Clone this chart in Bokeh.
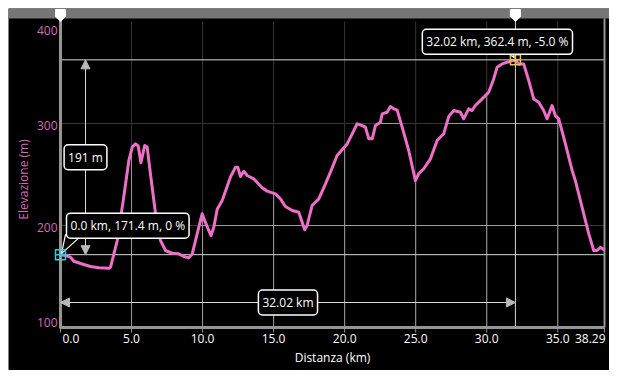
import numpy as np
from bokeh.plotting import figure
from bokeh.models import Range1d, Label, Arrow, NormalHead
from bokeh.core.properties import value
from bokeh.embed import file_html
from bokeh.resources import INLINE

# ---------------- data ----------------
distance_km = [0.00, 0.35, 0.70, 0.94, 1.64, 2.11, 2.70, 3.40, 3.52, 3.99, 4.45, 4.81,
               5.05, 5.28, 5.47, 5.66, 5.93, 6.10, 6.33, 6.69, 7.04, 7.39, 7.86, 8.32,
               8.68, 9.03, 9.27, 9.62, 9.97, 10.20, 10.59, 10.79, 11.03, 11.38, 11.96,
               12.32, 12.48, 12.67, 12.90, 13.14, 13.60, 14.19, 14.55, 15.13, 15.48,
               15.83, 16.31, 16.77, 17.01, 17.19, 17.36, 17.71, 18.18, 18.65, 19.00,
               19.47, 19.82, 20.18, 20.53, 20.88, 21.23, 21.46, 21.70, 21.94, 22.17,
               22.52, 22.64, 22.99, 23.22, 23.46, 23.69, 24.05, 24.51, 24.98, 25.21,
               25.57, 26.04, 26.51, 26.97, 27.33, 27.68, 28.15, 28.38, 28.73, 28.97,
               29.20, 29.68, 30.14, 30.49, 30.73, 31.08, 31.43, 32.02, 32.25, 32.60,
               32.96, 33.31, 33.66, 34.01, 34.25, 34.60, 34.83, 35.07, 35.54, 36.01,
               36.24, 36.71, 37.18, 37.53, 37.77, 38.00, 38.29]
elevation_m = [171.4, 170.6, 169.0, 165.0, 161.8, 159.8, 158.5, 158.0, 159.0, 185.0,
               227.7, 263.7, 276.8, 280.0, 278.0, 261.5, 278.4, 276.8, 250.7, 211.5,
               185.3, 175.5, 172.8, 172.2, 169.6, 168.3, 172.0, 191.9, 211.5, 203.0,
               190.0, 198.3, 216.0, 224.5, 247.4, 257.2, 257.0, 248.0, 253.2, 249.0,
               245.8, 237.0, 233.7, 231.0, 226.1, 218.6, 214.7, 213.0, 203.2, 195.8,
               200.0, 219.6, 226.1, 240.9, 252.3, 268.6, 274.2, 280.0, 289.9, 299.7,
               298.0, 296.4, 285.0, 285.0, 298.0, 301.3, 309.5, 311.0, 316.7, 314.4,
               313.3, 296.4, 273.5, 244.0, 250.7, 255.6, 265.4, 283.3, 289.9, 307.0,
               312.7, 311.0, 304.6, 314.4, 312.7, 317.6, 324.1, 330.6, 343.7, 355.1,
               358.4, 360.0, 362.4, 358.4, 358.4, 342.0, 324.0, 320.9, 312.7, 304.6,
               317.6, 307.8, 304.6, 280.0, 254.0, 244.0, 218.0, 192.0, 175.5, 175.5,
               178.7, 176.0]

x_ticks = [0, 5, 10, 15, 20, 25, 30, 35, 38.29]
x_tick_labels = ["0.0", "5.0", "10.0", "15.0", "20.0", "25.0", "30.0", "35.0", "38.29"]
y_ticks = [100, 200, 300, 400]
y_tick_labels = ["100", "200", "300", "400"]

start_km, start_elev = 0.0, 171.4
peak_km, peak_elev = 32.02, 362.4
start_info = "0.0 km, 171.4 m, 0 %"
peak_info = "32.02 km, 362.4 m, -5.0 %"
climb_text = "191 m"
dist_text = "32.02 km"
x_title = "Distanza (km)"
y_title = "Elevazione (m)"

# ---------------- style / geometry ----------------
FONT = "Open Sans"
PINK = "#ee6fc8"
PINK_TXT = "#d46cb4"
DIM = "#363636"
BRIGHT = "#9c9c9c"
WHITE_LINE = "#d8d8d8"
AXIS = "#959595"

W, H = 609, 370              # includes an 8px white strip left/top
PAD_L, PAD_R, PAD_T, PAD_B = 52, 5, 13, 43   # plot box inside the black frame
FW, FH = W - 8, H - 8
x0, x1 = x_ticks[0], x_ticks[-1]
y0, y1 = y_ticks[0], y_ticks[-1]
kx = (x1 - x0) / (FW - PAD_L - PAD_R)
ky = (y1 - y0) / (FH - PAD_T - PAD_B)
xr = Range1d(x0 - PAD_L * kx, x1 + PAD_R * kx)
yr = Range1d(y0 - PAD_B * ky, y1 + PAD_T * ky)

p = figure(width=W, height=H, output_backend="svg", toolbar_location=None,
           x_range=xr, y_range=yr, x_axis_location=None, y_axis_location=None,
           min_border_left=8, min_border_top=8, min_border_right=0, min_border_bottom=0,
           background_fill_color="black", border_fill_color="white",
           outline_line_color=None)
p.xgrid.visible = False
p.ygrid.visible = False

xs = np.array(distance_km, dtype=float)
ys = np.array(elevation_m, dtype=float)

# top slider bar
bar_bottom = yr.end - 10 * ky
p.quad(left=[xr.start], right=[xr.end], top=[yr.end], bottom=[bar_bottom],
       fill_color="#767676", line_color=None)

# grid, dim everywhere
gx = np.array(x_ticks[1:-1], dtype=float)
p.segment(x0=gx, y0=[y0] * len(gx), x1=gx, y1=[y1] * len(gx), line_color=DIM, line_width=1)
gy = np.array(y_ticks[1:-1], dtype=float)
p.segment(x0=[x0] * len(gy), y0=gy, x1=[x1] * len(gy), y1=gy, line_color=DIM, line_width=1)

# bright grid below the profile
p.segment(x0=gx, y0=[y0] * len(gx), x1=gx, y1=np.interp(gx, xs, ys),
          line_color=BRIGHT, line_width=1)

def above(level):
    segs, start = [], (xs[0] if ys[0] > level else None)
    for i in range(1, len(xs)):
        a, b = ys[i - 1], ys[i]
        if (a > level) != (b > level):
            xc = xs[i - 1] + (level - a) * (xs[i] - xs[i - 1]) / (b - a)
            if b > level:
                start = xc
            else:
                segs.append((start, xc))
    if ys[-1] > level:
        segs.append((start, xs[-1]))
    return segs

hx0, hx1, hy = [], [], []
for lv in gy:
    for a, b in above(lv):
        hx0.append(a); hx1.append(b); hy.append(lv)
p.segment(x0=hx0, y0=hy, x1=hx1, y1=hy, line_color=BRIGHT, line_width=1)

# reference lines
p.segment(x0=[x0, x0], y0=[start_elev, peak_elev], x1=[x1, x1], y1=[start_elev, peak_elev],
          line_color=WHITE_LINE, line_width=1)
p.segment(x0=[peak_km], y0=[y0], x1=[peak_km], y1=[bar_bottom],
          line_color=WHITE_LINE, line_width=1)

# axes lines & ticks
p.segment(x0=[x0], y0=[y0 - 1 * ky], x1=[x0], y1=[bar_bottom], line_color=AXIS, line_width=3)
p.segment(x0=[x0], y0=[y0], x1=[x1], y1=[y0], line_color=AXIS, line_width=3)
p.segment(x0=[x1], y0=[y0], x1=[x1], y1=[bar_bottom], line_color=AXIS, line_width=2)
tx = np.array(x_ticks, dtype=float)
p.segment(x0=tx, y0=[y0] * len(tx), x1=tx, y1=[y0 - 5 * ky] * len(tx),
          line_color=AXIS, line_width=1)

# profile
p.line(distance_km, elevation_m, line_color=PINK, line_width=3, line_join="round")

# arrows
arrow_x = x0 + 25 * kx
arrow_y = y0 + 25 * ky
head = dict(size=9, fill_color="#b8b8b8", line_color="#b8b8b8")
p.add_layout(Arrow(start=NormalHead(**head), end=NormalHead(**head),
                   x_start=arrow_x, y_start=start_elev, x_end=arrow_x, y_end=peak_elev,
                   line_color=WHITE_LINE, line_width=1))
p.add_layout(Arrow(start=NormalHead(**head), end=NormalHead(**head),
                   x_start=start_km, y_start=arrow_y, x_end=peak_km, y_end=arrow_y,
                   line_color=WHITE_LINE, line_width=1))

# callout tails
p.patch([start_km + 5 * kx, start_km + 22 * kx, start_km + 1 * kx],
        [start_elev + 20 * ky, start_elev + 20 * ky, start_elev + 1 * ky],
        fill_color="black", line_color="white", line_width=1.2)
p.patch([peak_km - 11 * kx, peak_km - 3 * kx, peak_km - 1 * kx],
        [peak_elev + 9 * ky, peak_elev + 9 * ky, peak_elev + 2 * ky],
        fill_color="black", line_color="white", line_width=1.2)

# markers
p.scatter([start_km], [start_elev], marker="square_cross", size=10, fill_color=None,
          line_color="#3ccad8", line_width=1.5)
p.scatter([peak_km], [peak_elev], marker="square_cross", size=10, fill_color=None,
          line_color="#e6c84a", line_width=1.5)

# slider pins
pin_px = [(-5, 0), (5, 0), (5, 7), (0, 12), (-5, 7)]
pin_top = yr.end - 1 * ky
pxs, pys = [], []
for cx in (start_km, peak_km):
    pxs.append([cx + dx * kx for dx, _ in pin_px])
    pys.append([pin_top - dy * ky for _, dy in pin_px])
p.patches(pxs, pys, fill_color="white", line_color="white", line_width=1)

# boxed labels
box = dict(text_font=FONT, text_font_size="12px", text_color="white",
           background_fill_color="black", border_line_color="white",
           border_line_width=1.5, padding=4, border_radius=4)
p.add_layout(Label(x=arrow_x, y=(start_elev + peak_elev) / 2, text=climb_text,
                   text_align="center", text_baseline="middle", **box))
p.add_layout(Label(x=(start_km + peak_km) / 2, y=arrow_y, text=dist_text,
                   text_align="center", text_baseline="middle", **box))
p.add_layout(Label(x=start_km, y=start_elev, x_offset=6, y_offset=29, text=start_info,
                   text_align="left", text_baseline="middle", **box))
p.add_layout(Label(x=peak_km, y=peak_elev, x_offset=-18, y_offset=18, text=peak_info,
                   text_align="center", text_baseline="middle", **box))

# tick labels
x_align = ["left"] + ["center"] * (len(x_ticks) - 2) + ["right"]
x_dx = [2] + [0] * (len(x_ticks) - 2) + [1]
for t, s, al, dx in zip(x_ticks, x_tick_labels, x_align, x_dx):
    p.text(x=[t], y=[y0], text=[s], x_offset=dx, y_offset=6, text_align=al,
           text_baseline="top", text_font=value(FONT), text_font_size=value("12px"),
           text_color="white")
y_dy = [-5, 2, 2, 9]
for t, s, dy in zip(y_ticks, y_tick_labels, y_dy):
    p.text(x=[x0], y=[t], text=[s], x_offset=-3, y_offset=dy, text_align="right",
           text_baseline="middle", text_font=value(FONT), text_font_size=value("12px"),
           text_color=PINK_TXT)

# axis titles
p.text(x=[(x0 + x1) / 2], y=[y0], text=[x_title], y_offset=30, text_align="center",
       text_baseline="middle", text_font=value(FONT), text_font_size=value("12px"),
       text_color="white")
p.text(x=[x0], y=[(y0 + y1) / 2], text=[y_title], x_offset=-37, y_offset=5,
       angle=np.pi / 2, text_align="center", text_baseline="middle",
       text_font=value(FONT), text_font_size=value("12px"), text_color=PINK_TXT)

open("out.html", "w").write(file_html(p, INLINE))
